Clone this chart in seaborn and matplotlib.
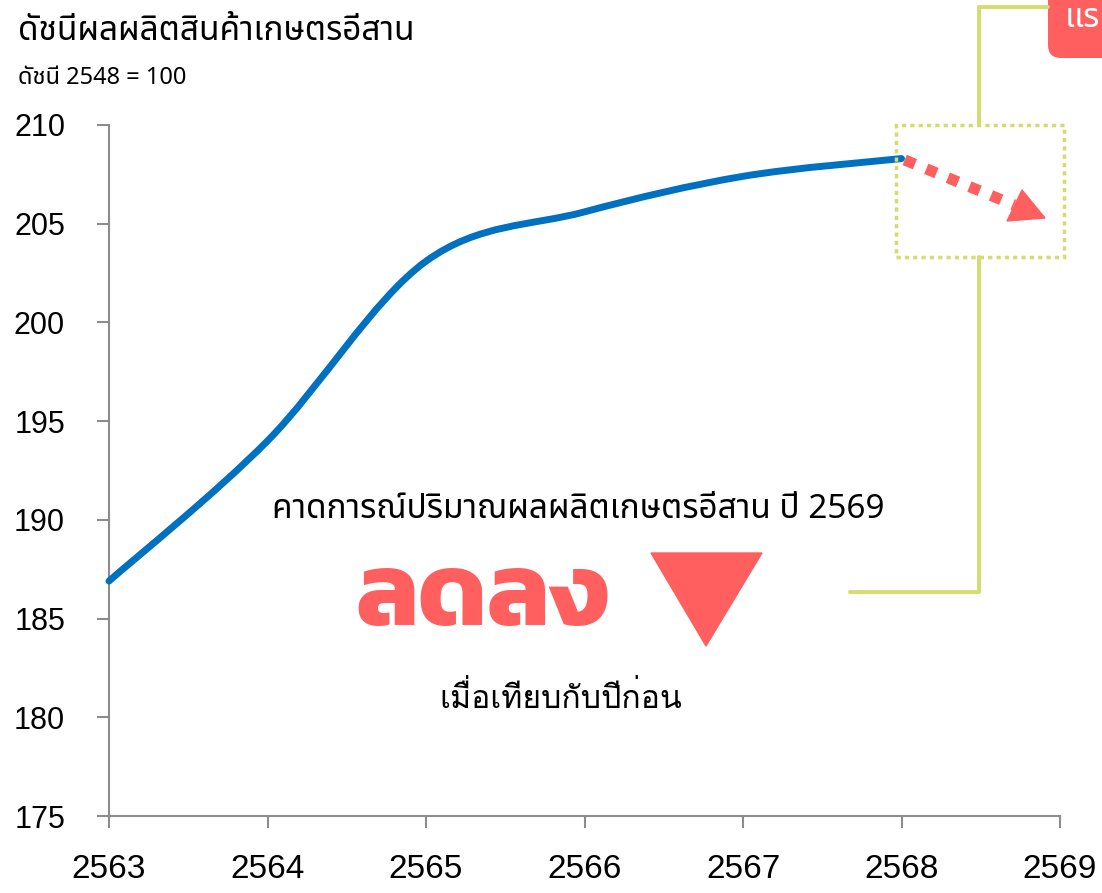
import matplotlib
matplotlib.use("Agg")
import numpy as np
import matplotlib.pyplot as plt
import seaborn as sns
from matplotlib.path import Path
from matplotlib.patches import PathPatch, Polygon, Rectangle, FancyBboxPatch
from matplotlib.lines import Line2D

# data
years = [2563, 2564, 2565, 2566, 2567, 2568]
index_values = [186.9, 194.0, 203.1, 205.6, 207.4, 208.3]
x_ticks = [2563, 2564, 2565, 2566, 2567, 2568, 2569]
y_ticks = [175, 180, 185, 190, 195, 200, 205, 210]

title = "ดัชนีผลผลิตสินค้าเกษตรอีสาน"
subtitle = "ดัชนี 2548 = 100"
note_top = "คาดการณ์ปริมาณผลผลิตเกษตรอีสาน ปี 2569"
note_big = "ลดลง"
note_bottom = "เมื่อเทียบกับปีก่อน"
badge_text = "แร"

BLUE = "#0070C0"
RED = "#FF5F5F"
GREEN = "#D4DC6A"
GREY = "#8C8C8C"

sns.set_style("ticks")
plt.rcParams["font.family"] = ["Liberation Sans", "Noto Sans Thai"]
plt.rcParams["text.color"] = "black"
plt.rcParams["xtick.labelcolor"] = "black"
plt.rcParams["ytick.labelcolor"] = "black"
THAI = ["Noto Sans Thai", "Liberation Sans"]
# Loma keeps the stacked tone mark of "เมื่อ" visible without shaping
THAI_STACK = ["Loma", "Noto Sans Thai"]

W, H = 1102, 893
fig = plt.figure(figsize=(W / 100, H / 100), dpi=100)
ax = fig.add_axes([109 / W, 1 - 816 / H, (1060 - 109) / W, (816 - 125) / H])


def px(x, y):
    # pixel position (from top-left) -> inches for dpi_scale_trans
    return (x / 100, (H - y) / 100)


# smooth line through the points (Catmull-Rom as cubic Bezier, like Excel)
pts = np.column_stack([years, index_values]).astype(float)
verts = [pts[0]]
codes = [Path.MOVETO]
n = len(pts)
for i in range(n - 1):
    p_prev = pts[max(i - 1, 0)]
    p_next = pts[min(i + 2, n - 1)]
    c1 = pts[i] + (pts[i + 1] - p_prev) / 6
    c2 = pts[i + 1] - (p_next - pts[i]) / 6
    verts += [c1, c2, pts[i + 1]]
    codes += [Path.CURVE4] * 3
ax.add_patch(PathPatch(Path(verts, codes), fill=False, edgecolor=BLUE,
                       lw=5, capstyle="round", clip_on=False, zorder=4))

ax.set_xlim(2563, 2569)
ax.set_ylim(175, 210)
ax.set_xticks(x_ticks)
ax.set_yticks(y_ticks)
ax.set_xticklabels([str(v) for v in x_ticks])
ax.set_yticklabels([str(v) for v in y_ticks])
ax.tick_params(axis="y", length=8.6, width=1.5, color=GREY, pad=23, labelsize=22)
ax.tick_params(axis="x", length=8.6, width=1.5, color=GREY, pad=19, labelsize=24)
sns.despine(ax=ax)
for s in ["left", "bottom"]:
    ax.spines[s].set_color(GREY)
    ax.spines[s].set_linewidth(1.5)
ax.grid(False)

# dotted forecast arrow
ax.plot([2568.02, 2568.71], [208.23, 205.95], color=RED, lw=8,
        linestyle=(0, (1, 1.1)), dash_capstyle="butt", zorder=5)
fig.patches.append(Polygon([px(1022, 190), px(1007, 221), px(1045, 218)],
                           closed=True, color=RED, transform=fig.dpi_scale_trans))

# green dotted frame and connectors
x0, y0 = px(896, 257)
x1, y1 = px(1064, 125)
fig.patches.append(Rectangle((x0, y0), x1 - x0, y1 - y0, fill=False, edgecolor=GREEN,
                             lw=2.5, linestyle=(0, (1.2, 1.2)),
                             transform=fig.dpi_scale_trans))
for seg in ([(979, 125), (979, 7), (1048, 7)], [(979, 257), (979, 592), (850, 592)]):
    xs = [px(*p)[0] for p in seg]
    ys = [px(*p)[1] for p in seg]
    fig.lines.append(Line2D(xs, ys, color=GREEN, lw=2.8,
                            transform=fig.dpi_scale_trans))

# red badge at the top right corner
bx, by = px(1048, 58)
fig.patches.append(FancyBboxPatch((bx, by), 1.0, 0.9,
                                  boxstyle="round,pad=0,rounding_size=0.13",
                                  facecolor=RED, edgecolor="none",
                                  transform=fig.dpi_scale_trans))
fig.text(1100 / W, 1 - 27 / H, badge_text, color="white", fontsize=24,
         family=THAI, ha="right", va="baseline")

# titles
fig.text(18 / W, 1 - 40 / H, title, fontsize=24, family=THAI, va="baseline")
fig.text(18 / W, 1 - 84 / H, subtitle, fontsize=17, family=THAI, va="baseline")

# annotation in the plot area
fig.text(578 / W, 1 - 510 / H, note_top, fontsize=24, family=THAI,
         ha="center", va="center")
fig.text(483 / W, 1 - 601 / H, note_big, fontsize=75, family=["Kanit", "Noto Sans Thai"],
         fontweight="bold", color=RED, ha="center", va="center")
fig.patches.append(Polygon([px(651, 553), px(762, 553), px(706, 646)], closed=True,
                           color=RED, transform=fig.dpi_scale_trans))
fig.text(561 / W, 1 - 698 / H, note_bottom, fontsize=23, family=THAI_STACK,
         ha="center", va="center")

fig.savefig("out.png", dpi=100)
